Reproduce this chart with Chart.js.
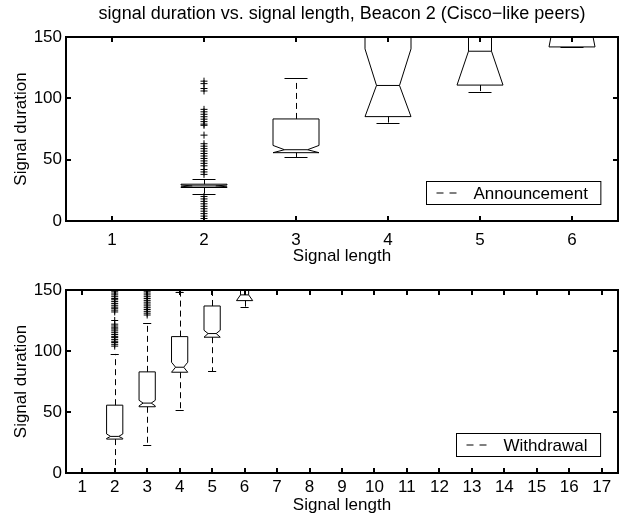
<!DOCTYPE html>
<html>
<head>
<meta charset="utf-8">
<script src="https://cdn.jsdelivr.net/npm/chart.js@4.4.1/dist/chart.umd.min.js"></script>
<style>
  html, body { margin: 0; padding: 0; background: #fff; }
  #wrap { position: relative; width: 626px; height: 517px; }
  #wrap canvas { position: absolute; left: 0; }
</style>
</head>
<body>
<div id="wrap">
  <canvas id="annChart" width="626" height="268" style="top:0"></canvas>
  <canvas id="wdrChart" width="626" height="249" style="top:268px"></canvas>
</div>
<script>
const TITLE = "signal duration vs. signal length, Beacon 2 (Cisco\u2212like peers)";
const X_LABEL = "Signal length";
const Y_LABEL = "Signal duration";
const yTicks = [0, 50, 100, 150];

// top panel: announcements
const annTicks = [1, 2, 3, 4, 5, 6];
const annLength = [2, 3, 4, 5, 6];
const annWhiskerLo = [22.4, 52.2, 79.5, 105.4, 141.9];
const annQ1 = [27.3, 55.7, 85.1, 110.8, 141.9];
const annNotchLo = [27.9, 55.7, 85.1, 110.8, 141.9];
const annMedian = [28.6, 58.1, 110.5, 138.4, 190];
const annNotchHi = [29.3, 61.6, 140.3, 170, 230];
const annQ3 = [30, 83.2, 175, 165, 210];
const annWhiskerHi = [34.1, 116.2, 190, 180, 230];
const annOutliers2 = [0, 2, 4, 6, 8, 10, 12, 14, 16, 18, 20, 38, 40, 42, 45, 47, 49, 51, 53,
  55, 57, 59, 61, 63, 70, 78, 79, 81, 83, 85, 87, 89, 91, 106, 108, 112, 114];

// bottom panel: withdrawals
const wdrTicks = [1, 2, 3, 4, 5, 6, 7, 8, 9, 10, 11, 12, 13, 14, 15, 16, 17];
const wdrLength = [2, 3, 4, 5, 6];
const wdrWhiskerLo = [0.5, 23.2, 51.8, 83.2, 136.3];
const wdrQ1 = [27.8, 54.3, 82.6, 111.3, 141.3];
const wdrNotchLo = [28.3, 55, 82.6, 111.3, 141.3];
const wdrMedian = [30, 57.3, 86.7, 114.3, 146];
const wdrNotchHi = [32, 59.6, 90.8, 117, 156];
const wdrQ3 = [55.6, 82.9, 111.8, 136.9, 153];
const wdrWhiskerHi = [97.6, 123.3, 148, 152, 160];
const wdrOutliers2 = [104, 105.5, 107, 108, 109.5, 111, 112, 113.5, 115, 116.5, 118, 119, 120.5,
  122, 125, 132, 133.5, 135, 136, 137.5, 139, 140.5, 142, 143, 144.5, 146, 147.5, 149];
const wdrOutliers3 = [129.5, 131, 132.5, 134, 135.5, 137, 138.5, 140, 141.5, 143, 144.5, 146, 147.5, 149];
const wdrOutliers4 = [149.5];

const FONT = "'Liberation Sans', Arial, Helvetica, sans-serif";
Chart.defaults.font.family = FONT;
Chart.defaults.font.size = 17;
Chart.defaults.color = "#000";

// MATLAB-style notched boxes; a notch reaching past the box runs straight up/down
const notchBoxes = {
  id: "notchBoxes",
  afterDatasetsDraw(chart, args, opts) {
    const { ctx, chartArea: a, scales: { x, y } } = chart;
    const py = (v) => y.getPixelForValue(v);
    ctx.save();
    ctx.beginPath();
    ctx.rect(a.left, a.top, a.width, a.height);
    ctx.clip();
    ctx.strokeStyle = "#000";
    ctx.lineWidth = 1;
    opts.boxes.forEach((b) => {
      const L = x.getPixelForValue(b.x - 0.25);
      const R = x.getPixelForValue(b.x + 0.25);
      const NL = x.getPixelForValue(b.x - 0.125);
      const NR = x.getPixelForValue(b.x + 0.125);
      const C = Math.round(x.getPixelForValue(b.x)) + 0.5;

      const side = [];
      if (b.nLo >= b.q1) side.push([0, b.q1], [0, b.nLo]);
      else side.push([1, b.q1]);
      side.push([1, b.med]);
      if (b.nHi <= b.q3) side.push([0, b.nHi], [0, b.q3]);
      else side.push([1, b.q3]);

      ctx.beginPath();
      side.forEach(([n, v], i) => {
        const px = n ? NL : L;
        if (i) ctx.lineTo(px, py(v));
        else ctx.moveTo(px, py(v));
      });
      side.slice().reverse().forEach(([n, v]) => ctx.lineTo(n ? NR : R, py(v)));
      ctx.closePath();
      ctx.stroke();

      ctx.beginPath();
      ctx.moveTo(NL, py(b.med));
      ctx.lineTo(NR, py(b.med));
      ctx.stroke();

      ctx.setLineDash([6, 4]);
      ctx.beginPath();
      if (b.wHi > b.q3) { ctx.moveTo(C, py(b.q3)); ctx.lineTo(C, py(b.wHi)); }
      if (b.wLo < b.q1) { ctx.moveTo(C, py(b.q1)); ctx.lineTo(C, py(b.wLo)); }
      ctx.stroke();
      ctx.setLineDash([]);

      ctx.beginPath();
      [b.wHi, b.wLo].forEach((v) => {
        const yy = Math.round(py(v)) + 0.5;
        ctx.moveTo(NL, yy);
        ctx.lineTo(NR, yy);
      });
      ctx.stroke();
    });
    ctx.restore();
  },
};

// box frame with inward ticks on all four sides, plus the legend
const matlabFrame = {
  id: "matlabFrame",
  afterDraw(chart, args, opts) {
    const { ctx, chartArea: a, scales: { x, y } } = chart;
    ctx.save();
    ctx.strokeStyle = "#000";
    ctx.lineWidth = 2;
    ctx.strokeRect(a.left, a.top, a.width, a.height);
    ctx.beginPath();
    x.ticks.forEach((t) => {
      const p = Math.round(x.getPixelForValue(t.value));
      ctx.moveTo(p, a.bottom); ctx.lineTo(p, a.bottom - 5);
      ctx.moveTo(p, a.top); ctx.lineTo(p, a.top + 5);
    });
    y.ticks.forEach((t) => {
      const p = Math.round(y.getPixelForValue(t.value));
      ctx.moveTo(a.left, p); ctx.lineTo(a.left + 5, p);
      ctx.moveTo(a.right, p); ctx.lineTo(a.right - 5, p);
    });
    ctx.stroke();

    ctx.font = "17px " + FONT;
    const tw = ctx.measureText(opts.label).width;
    const w = 47 + tw + 13, h = 23;
    const left = Math.round(a.right - 18 - w) + 0.5;
    const top = Math.round(a.bottom - 17 - h) + 0.5;
    ctx.fillStyle = "#fff";
    ctx.fillRect(left, top, w, h);
    ctx.lineWidth = 1;
    ctx.strokeRect(left, top, w, h);
    ctx.setLineDash([7, 6]);
    ctx.beginPath();
    ctx.moveTo(left + 10, Math.round(top + h / 2));
    ctx.lineTo(left + 30, Math.round(top + h / 2));
    ctx.stroke();
    ctx.setLineDash([]);
    ctx.fillStyle = "#000";
    ctx.textBaseline = "middle";
    ctx.fillText(opts.label, left + 47, top + h / 2 + 1);
    ctx.restore();
  },
};

function buildBoxes(lengths, wLo, q1, nLo, med, nHi, q3, wHi) {
  return lengths.map((v, i) => ({
    x: v, wLo: wLo[i], q1: q1[i], nLo: nLo[i], med: med[i], nHi: nHi[i], q3: q3[i], wHi: wHi[i],
  }));
}

function outlierSet(length, values) {
  return {
    data: values.map((v) => ({ x: length, y: v })),
    pointStyle: "cross",
    radius: 3.5,
    borderColor: "#000",
    borderWidth: 1,
    showLine: false,
  };
}

function panel(canvas, spec) {
  return new Chart(canvas, {
    type: "scatter",
    data: { datasets: spec.datasets },
    options: {
      responsive: false,
      animation: false,
      events: [],
      devicePixelRatio: 1,
      layout: { padding: { left: 0, right: 8, top: spec.padTop, bottom: 0 } },
      plugins: {
        legend: { display: false },
        tooltip: { enabled: false },
        title: spec.title
          ? { display: true, text: spec.title, fullSize: false, color: "#000",
              font: { size: 18, weight: "normal" }, padding: { top: 3, bottom: 12.4 } }
          : { display: false },
        notchBoxes: { boxes: spec.boxes },
        matlabFrame: { label: spec.legend },
      },
      scales: {
        x: {
          type: "linear",
          min: spec.xMin,
          max: spec.xMax,
          afterBuildTicks: (s) => { s.ticks = spec.xTicks.map((v) => ({ value: v })); },
          afterFit: (s) => { s.height = spec.xHeight; },
          grid: { display: false, drawTicks: false },
          border: { display: false },
          ticks: { autoSkip: false, maxRotation: 0, padding: spec.xPad, color: "#000" },
          title: { display: true, text: X_LABEL, color: "#000", padding: { top: 0, bottom: 1.5 } },
        },
        y: {
          min: 0,
          max: 150,
          afterBuildTicks: (s) => { s.ticks = yTicks.map((v) => ({ value: v })); },
          afterFit: (s) => { s.width = 66; },
          grid: { display: false, drawTicks: false },
          border: { display: false },
          ticks: { autoSkip: false, padding: 4, color: "#000" },
          title: { display: true, text: Y_LABEL, color: "#000", padding: { top: 11, bottom: 0 } },
        },
      },
    },
    plugins: [notchBoxes, matlabFrame],
  });
}

panel(document.getElementById("annChart"), {
  title: TITLE,
  padTop: 0,
  xMin: 0.5,
  xMax: 6.5,
  xTicks: annTicks,
  xHeight: 47,
  xPad: 9.5,
  legend: "Announcement",
  boxes: buildBoxes(annLength, annWhiskerLo, annQ1, annNotchLo, annMedian, annNotchHi, annQ3, annWhiskerHi),
  datasets: [outlierSet(2, annOutliers2)],
});

panel(document.getElementById("wdrChart"), {
  title: null,
  padTop: 22,
  xMin: 0.5,
  xMax: 17.5,
  xTicks: wdrTicks,
  xHeight: 44,
  xPad: 4.5,
  legend: "Withdrawal",
  boxes: buildBoxes(wdrLength, wdrWhiskerLo, wdrQ1, wdrNotchLo, wdrMedian, wdrNotchHi, wdrQ3, wdrWhiskerHi),
  datasets: [outlierSet(2, wdrOutliers2), outlierSet(3, wdrOutliers3), outlierSet(4, wdrOutliers4)],
});
</script>
</body>
</html>
